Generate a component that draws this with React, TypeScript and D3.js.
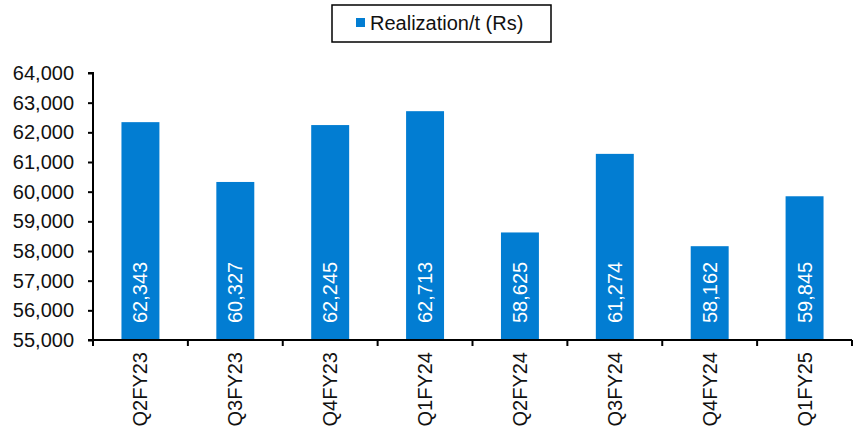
import * as d3 from "d3";
import { useEffect, useRef } from "react";

// Chart data
const quarters = ["Q2FY23", "Q3FY23", "Q4FY23", "Q1FY24", "Q2FY24", "Q3FY24", "Q4FY24", "Q1FY25"];
const realization = [62343, 60327, 62245, 62713, 58625, 61274, 58162, 59845];
const yTicks = [55000, 56000, 57000, 58000, 59000, 60000, 61000, 62000, 63000, 64000];
const seriesName = "Realization/t (Rs)";

const barColor = "#027dd2";
const font = "'Liberation Sans', Arial, sans-serif";

const App = () => {
  const svgRef = useRef<SVGSVGElement>(null);

  useEffect(() => {
    if (!svgRef.current) return;

    const width = 864;
    const height = 435;
    const margin = { top: 73, right: 12, bottom: 95, left: 93 };

    const svg = d3.select(svgRef.current).attr("width", width).attr("height", height);
    svg.selectAll("*").remove();

    const x = d3
      .scaleBand<string>()
      .domain(quarters)
      .range([margin.left, width - margin.right])
      .paddingInner(0.6)
      .paddingOuter(0.3);

    const y = d3
      .scaleLinear()
      .domain([55000, 64000])
      .range([height - margin.bottom, margin.top]);

    const fmt = d3.format(",");

    // Bars
    svg
      .append("g")
      .selectAll("rect")
      .data(realization)
      .join("rect")
      .attr("x", (_, i) => x(quarters[i]) as number)
      .attr("y", d => y(d))
      .attr("width", x.bandwidth())
      .attr("height", d => y(55000) - y(d))
      .attr("fill", barColor);

    // Value labels inside bars (rotated)
    svg
      .append("g")
      .selectAll("text")
      .data(realization)
      .join("text")
      .attr("transform", (_, i) => {
        const cx = (x(quarters[i]) as number) + x.bandwidth() / 2;
        return `translate(${cx + 7}, ${y(55000) - 17}) rotate(-90)`;
      })
      .attr("text-anchor", "start")
      .attr("fill", "white")
      .style("font-family", font)
      .style("font-size", "20px")
      .text(d => fmt(d));

    // Y axis
    const yAxis = svg
      .append("g")
      .attr("transform", `translate(${margin.left}, 0)`)
      .call(d3.axisLeft(y).tickValues(yTicks).tickSize(5).tickPadding(14).tickFormat(d => fmt(d as number)));
    yAxis.select(".domain").attr("stroke", "black").attr("stroke-width", 2).attr("d", `M-5,${y(64000)}H0V${y(55000)}`);
    yAxis.selectAll(".tick line").attr("stroke", "black").attr("stroke-width", 2);
    yAxis.selectAll("text").style("font-family", font).style("font-size", "20px").attr("fill", "#111");

    // X axis: ticks at category boundaries
    const xAxis = svg.append("g").attr("transform", `translate(0, ${y(55000)})`);
    xAxis
      .append("line")
      .attr("x1", margin.left - 5)
      .attr("x2", width - margin.right)
      .attr("stroke", "black")
      .attr("stroke-width", 2);
    const step = x.step();
    const x0 = margin.left;
    xAxis
      .selectAll("line.tick")
      .data(d3.range(quarters.length + 1))
      .join("line")
      .attr("class", "tick")
      .attr("x1", i => x0 + i * step)
      .attr("x2", i => x0 + i * step)
      .attr("y1", 0)
      .attr("y2", 6)
      .attr("stroke", "black")
      .attr("stroke-width", 2);
    xAxis
      .selectAll("text")
      .data(quarters)
      .join("text")
      .attr("transform", q => `translate(${(x(q) as number) + x.bandwidth() / 2 + 7}, 12) rotate(-90)`)
      .attr("text-anchor", "end")
      .attr("fill", "#111")
      .style("font-family", font)
      .style("font-size", "20px")
      .text(q => q);

    // Legend
    const legend = svg.append("g");
    legend
      .append("rect")
      .attr("x", 332)
      .attr("y", 5)
      .attr("width", 219)
      .attr("height", 37)
      .attr("fill", "white")
      .attr("stroke", "black")
      .attr("stroke-width", 1.5);
    legend
      .append("rect")
      .attr("x", 356)
      .attr("y", 18)
      .attr("width", 9)
      .attr("height", 9)
      .attr("fill", barColor);
    legend
      .append("text")
      .attr("x", 370)
      .attr("y", 30)
      .attr("fill", "#111")
      .style("font-family", font)
      .style("font-size", "20px")
      .text(seriesName);
  }, []);

  return (
    <svg
      ref={svgRef}
      style={{ position: "absolute", left: 0, top: 0, background: "white" }}
    ></svg>
  );
};

export default App;
